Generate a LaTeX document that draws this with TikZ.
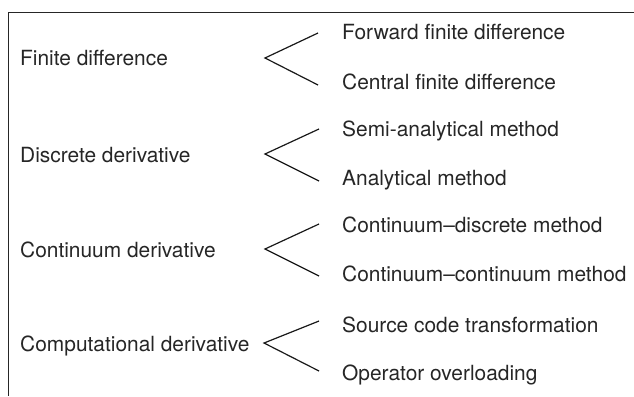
\documentclass[tikz,border=0pt]{standalone}
\usepackage{fontspec}
\setmainfont{TeX Gyre Heros}
\usepackage{tikz}
\usetikzlibrary{positioning, calc}

\begin{document}
\begin{tikzpicture}[x=1pt, y=-1pt,
    method/.style={anchor=base west, inner sep=0pt, text=black!85, font=\fontsize{20.9}{24}\selectfont},
    kind/.style={method},
    branch/.style={line width=1.2pt, black!90, line join=miter},
    frame/.style={line width=1.8pt, black!85}
]
\useasboundingbox (0,0) rectangle (634,396);

% Frame on top and left
\draw[frame] (634,12.5) -- (8.5,12.5) -- (8.5,396);

% Kinds of derivative
\node[kind] (fd)  at (20,65.5)  {Finite difference};
\node[kind] (dd)  at (20,162)   {Discrete derivative};
\node[kind] (cd)  at (20,257)   {Continuum derivative};
\node[kind] (cpd) at (20,351)   {Computational derivative};

% Methods
\node[method] (ffd) at (342,40)  {Forward finite difference};
\node[method] (cfd) at (342,89)  {Central finite difference};
\node[method] (sam) at (342,136) {Semi-analytical method};
\node[method] (am)  at (342,185) {Analytical method};
\node[method] (cdm) at (342,232) {Continuum--discrete method};
\node[method] (ccm) at (342,281) {Continuum--continuum method};
\node[method] (sct) at (342,332) {Source code transformation};
\node[method] (oo)  at (342,380) {Operator overloading};

% Branch points
\coordinate (v1) at (265,58);
\coordinate (v2) at (265,154);
\coordinate (v3) at (265,249);
\coordinate (v4) at (264,343);

% Branch ends, next to the methods
\coordinate (ffd-end) at ($(ffd.base west)+(-24,-7)$);
\coordinate (cfd-end) at ($(cfd.base west)+(-24,-4)$);
\coordinate (sam-end) at ($(sam.base west)+(-23,-7)$);
\coordinate (am-end)  at ($(am.base west)+(-23,-4)$);
\coordinate (cdm-end) at ($(cdm.base west)+(-23,-8)$);
\coordinate (ccm-end) at ($(ccm.base west)+(-23,-5)$);
\coordinate (sct-end) at ($(sct.base west)+(-23,-11)$);
\coordinate (oo-end)  at ($(oo.base west)+(-23,-9)$);

% Branches
\draw[branch] (ffd-end) -- (v1) -- (cfd-end);
\draw[branch] (sam-end) -- (v2) -- (am-end);
\draw[branch] (cdm-end) -- (v3) -- (ccm-end);
\draw[branch] (sct-end) -- (v4) -- (oo-end);
\end{tikzpicture}
\end{document}
